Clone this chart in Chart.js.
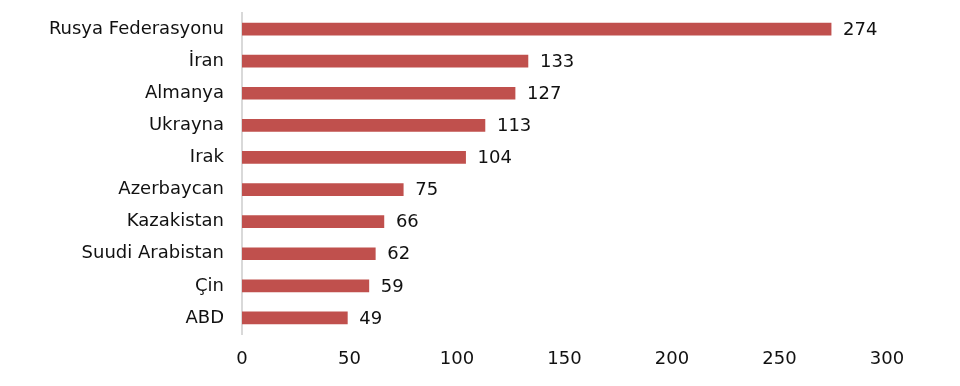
<!DOCTYPE html>
<html>
<head>
<meta charset="utf-8">
<script src="https://cdn.jsdelivr.net/npm/chart.js@4"></script>
<style>
  html, body { margin: 0; padding: 0; background: #fff; }
  #wrap { width: 960px; height: 386px; }
</style>
</head>
<body>
<div id="wrap"><canvas id="c" width="960" height="386"></canvas></div>
<script>
const countries = ['Rusya Federasyonu', 'İran', 'Almanya', 'Ukrayna', 'Irak', 'Azerbaycan', 'Kazakistan', 'Suudi Arabistan', 'Çin', 'ABD']
const values = [274, 133, 127, 113, 104, 75, 66, 62, 59, 49]
const xMin = 0
const xMax = 300
const xStep = 50

const fontFamily = '"DejaVu Sans"'

// draws the value right after each bar
const barValues = {
    id: 'barValues',
    afterDatasetsDraw(chart) {
        const ctx = chart.ctx
        ctx.save()
        ctx.font = '18px ' + fontFamily
        ctx.fillStyle = '#111'
        ctx.textBaseline = 'middle'
        ctx.textAlign = 'left'
        chart.getDatasetMeta(0).data.forEach((bar, i) => {
            ctx.fillText(values[i], bar.x + 12, bar.y + 1)
        })
        ctx.restore()
    }
}

new Chart(document.getElementById('c'), {
    type: 'bar',
    data: {
        labels: countries,
        datasets: [{
            data: values,
            backgroundColor: '#C0504D',
            barThickness: 12
        }]
    },
    options: {
        indexAxis: 'y',
        responsive: false,
        animation: false,
        layout: { padding: { left: 0, right: 73, top: 13, bottom: 0 } },
        plugins: { legend: { display: false }, tooltip: { enabled: false } },
        scales: {
            x: {
                min: xMin, max: xMax,
                ticks: { stepSize: xStep, color: '#111', font: { family: fontFamily, size: 18 }, padding: 7 },
                grid: { display: false },
                border: { display: false },
                afterFit: s => { s.height = 52 }
            },
            y: {
                ticks: { color: '#111', font: { family: fontFamily, size: 18 }, padding: 18 },
                grid: { display: false, drawTicks: false },
                border: { display: true, color: '#d9d9d9', width: 2 },
                afterFit: s => { s.width = 242; s.paddingTop = 0; s.paddingBottom = 0 }
            }
        }
    },
    plugins: [barValues]
})
</script>
</body>
</html>
